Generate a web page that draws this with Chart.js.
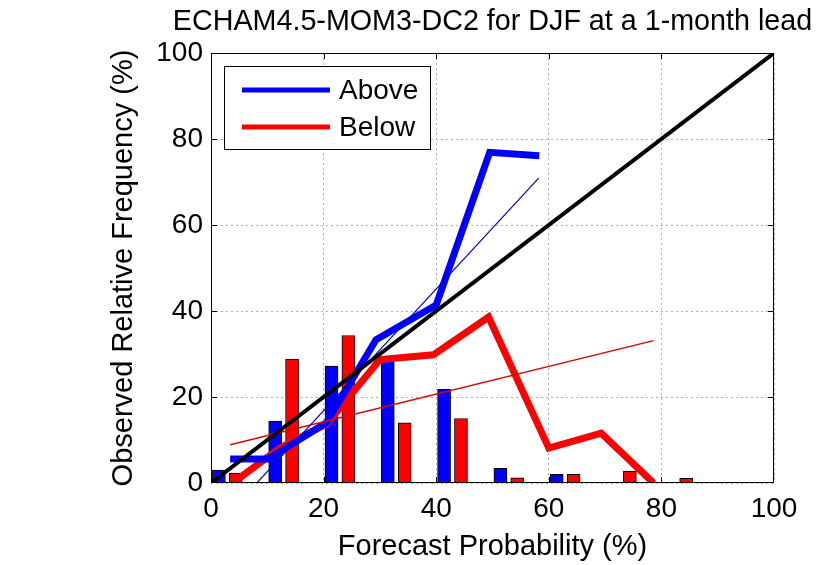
<!DOCTYPE html>
<html>
<head>
<meta charset="utf-8">
<script src="https://cdn.jsdelivr.net/npm/chart.js@4.4.1/dist/chart.umd.min.js"></script>
<style>
  html, body { margin: 0; padding: 0; background: #fff; }
</style>
</head>
<body>
<canvas id="chart" width="831" height="565"></canvas>
<script>
const titleText = "ECHAM4.5-MOM3-DC2 for DJF at a 1-month lead";
const xTitle = "Forecast Probability (%)";
const yTitle = "Observed Relative Frequency (%)";
const xTicks = [0, 20, 40, 60, 80, 100];
const yTicks = [0, 20, 40, 60, 80, 100];

// forecast counts per bin (%)
const aboveBarX = [1.4, 11.4, 21.4, 31.4, 41.4, 51.4, 61.4, 71.4, 81.4, 91.4];
const aboveBarY = [3.0, 14.4, 27.2, 29.1, 21.8, 3.4, 2.0, 0, 0, 0];
const belowBarX = [4.4, 14.4, 24.4, 34.4, 44.4, 54.4, 64.4, 74.4, 84.4, 94.4];
const belowBarY = [2.3, 28.8, 34.3, 14.0, 15.0, 1.2, 2.0, 2.8, 1.1, 0];

// reliability curves
const aboveProb = [3.4, 10.1, 20.5, 29.3, 40.0, 49.5, 58.3];
const aboveFreq = [5.6, 5.6, 14.0, 33.3, 41.4, 76.9, 76.1];
const belowProb = [5.2, 12.3, 20.6, 30.0, 39.5, 49.3, 60.0, 69.3, 78.6];
const belowFreq = [1.3, 8.2, 13.8, 28.7, 29.8, 38.6, 8.1, 11.6, 0];

// weighted fits
const aboveFitX = [3.4, 58.2];
const aboveFitY = [-6.7, 70.9];
const belowFitX = [3.4, 78.6];
const belowFitY = [8.9, 33.1];

// perfect reliability
const diagX = [0, 100];
const diagY = [0, 100];

const FONT = '"Liberation Sans", Arial, sans-serif';
const BLUE = "#0000ff";
const RED = "#ff0000";

const pts = (xs, ys) => xs.map((x, i) => ({ x: x, y: ys[i] }));

// title centred over the axes, not the canvas
const axesTitle = {
  id: "axesTitle",
  afterDraw(chart) {
    const { ctx, chartArea: a } = chart;
    ctx.save();
    ctx.fillStyle = "#000";
    ctx.font = "28.7px " + FONT;
    ctx.textAlign = "center";
    ctx.textBaseline = "middle";
    ctx.fillText(titleText, (a.left + a.right) / 2, 22);
    ctx.restore();
  },
};

// box around the axes with inward ticks, matlab style
const frame = {
  id: "frame",
  afterDatasetsDraw(chart) {
    const { ctx, chartArea: a, scales } = chart;
    ctx.save();
    ctx.strokeStyle = "#000";
    ctx.lineWidth = 1;
    ctx.strokeRect(a.left + 0.5, a.top + 0.5, a.right - a.left - 1, a.bottom - a.top - 1);
    ctx.beginPath();
    xTicks.slice(1, -1).forEach((v) => {
      const px = Math.round(scales.x.getPixelForValue(v)) + 0.5;
      ctx.moveTo(px, a.bottom);
      ctx.lineTo(px, a.bottom - 6);
      ctx.moveTo(px, a.top);
      ctx.lineTo(px, a.top + 6);
    });
    yTicks.slice(1, -1).forEach((v) => {
      const py = Math.round(scales.y.getPixelForValue(v)) + 0.5;
      ctx.moveTo(a.left, py);
      ctx.lineTo(a.left + 6, py);
      ctx.moveTo(a.right, py);
      ctx.lineTo(a.right - 6, py);
    });
    ctx.stroke();
    ctx.restore();
  },
};

const legendBox = {
  id: "legendBox",
  afterDraw(chart) {
    const ctx = chart.ctx;
    const items = [
      { text: "Above", color: BLUE, y: 90 },
      { text: "Below", color: RED, y: 127 },
    ];
    ctx.save();
    ctx.fillStyle = "#fff";
    ctx.fillRect(224, 66, 206, 83);
    ctx.strokeStyle = "#000";
    ctx.lineWidth = 1;
    ctx.strokeRect(224.5, 66.5, 206, 83);
    items.forEach((it) => {
      ctx.strokeStyle = it.color;
      ctx.lineWidth = 5;
      ctx.beginPath();
      ctx.moveTo(242, it.y);
      ctx.lineTo(330, it.y);
      ctx.stroke();
      ctx.fillStyle = "#000";
      ctx.font = "28px " + FONT;
      ctx.textBaseline = "middle";
      ctx.fillText(it.text, 339, it.y + 1);
    });
    ctx.restore();
  },
};

const gridOpts = {
  drawTicks: false,
  color: "#b0b0b0",
};

new Chart(document.getElementById("chart"), {
  type: "bar",
  data: {
    datasets: [
      {
        type: "line",
        label: "diag",
        data: pts(diagX, diagY),
        borderColor: "#000",
        borderWidth: 4,
        pointRadius: 0,
        order: 1,
      },
      {
        type: "line",
        label: "Above fit",
        data: pts(aboveFitX, aboveFitY),
        borderColor: "#0000c8",
        borderWidth: 1.2,
        pointRadius: 0,
        order: 2,
      },
      {
        type: "line",
        label: "Below fit",
        data: pts(belowFitX, belowFitY),
        borderColor: "#e00000",
        borderWidth: 1.4,
        pointRadius: 0,
        order: 2,
      },
      {
        type: "line",
        label: "Above",
        data: pts(aboveProb, aboveFreq),
        borderColor: BLUE,
        borderWidth: 7,
        pointRadius: 0,
        borderJoinStyle: "miter",
        order: 3,
      },
      {
        type: "line",
        label: "Below",
        data: pts(belowProb, belowFreq),
        borderColor: RED,
        borderWidth: 7,
        pointRadius: 0,
        borderJoinStyle: "miter",
        order: 3,
      },
      {
        label: "Above count",
        data: pts(aboveBarX, aboveBarY),
        backgroundColor: BLUE,
        borderColor: "#000",
        borderWidth: 1,
        borderSkipped: false,
        barThickness: 13,
        grouped: false,
        order: 5,
      },
      {
        label: "Below count",
        data: pts(belowBarX, belowBarY),
        backgroundColor: RED,
        borderColor: "#000",
        borderWidth: 1,
        borderSkipped: false,
        barThickness: 13,
        grouped: false,
        order: 5,
      },
    ],
  },
  options: {
    responsive: false,
    animation: false,
    layout: { padding: { left: 0, right: 57, top: 53, bottom: 0 } },
    plugins: {
      legend: { display: false },
      tooltip: { enabled: false },
      title: { display: false },
    },
    scales: {
      x: {
        type: "linear",
        min: 0,
        max: 100,
        offset: false,
        afterBuildTicks: (s) => { s.ticks = xTicks.map((v) => ({ value: v })); },
        afterFit: (s) => { s.height = 82; },
        grid: { ...gridOpts, offset: false },
        border: { display: false, dash: [2, 3] },
        ticks: { color: "#000", font: { family: FONT, size: 28 }, padding: 9, maxRotation: 0 },
        title: {
          display: true,
          text: xTitle,
          color: "#000",
          font: { family: FONT, size: 29 },
          padding: { top: 0, bottom: 1 },
        },
      },
      y: {
        type: "linear",
        min: 0,
        max: 100,
        afterBuildTicks: (s) => { s.ticks = yTicks.map((v) => ({ value: v })); },
        afterFit: (s) => { s.width = 211; },
        grid: gridOpts,
        border: { display: false, dash: [2, 3] },
        ticks: { color: "#000", font: { family: FONT, size: 28 }, padding: 8 },
        title: {
          display: true,
          text: yTitle,
          color: "#000",
          font: { family: FONT, size: 29 },
          padding: { top: 107, bottom: 0 },
        },
      },
    },
  },
  plugins: [frame, legendBox, axesTitle],
});
</script>
</body>
</html>
